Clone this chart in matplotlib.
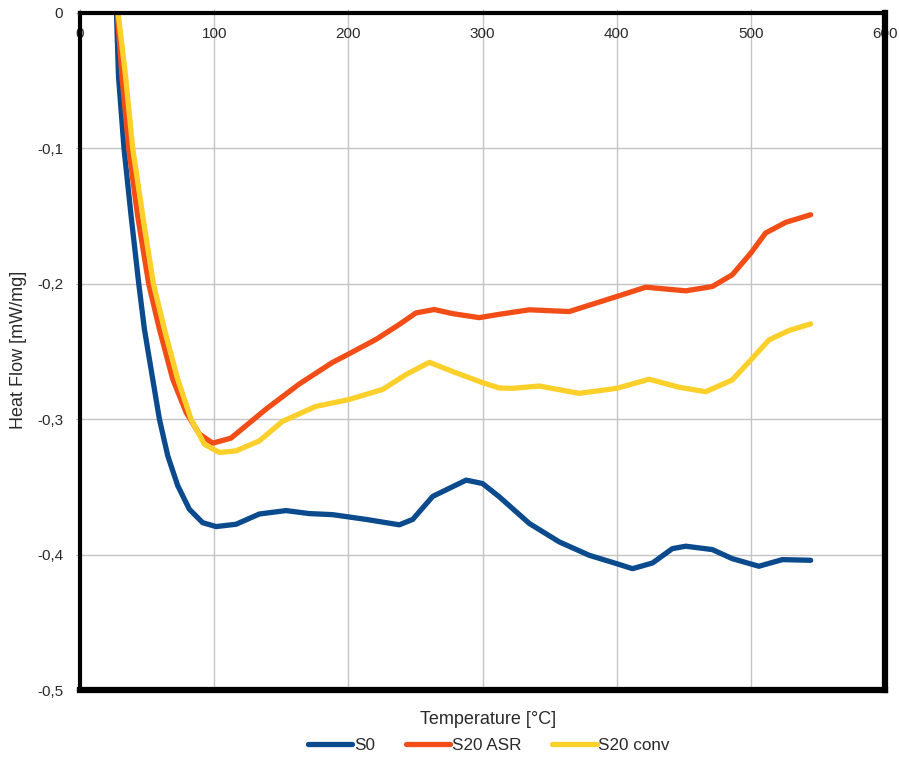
import matplotlib
matplotlib.use("Agg")
import matplotlib.pyplot as plt
from matplotlib.ticker import FuncFormatter

# ---- data ----
s0_x = [26.0, 27.2, 28.7, 32.8, 38.1, 43.8, 48.0, 54.2, 59.2, 65.4, 72.8, 81.5, 91.4, 101.4,
        116.3, 133.7, 153.5, 170.9, 188.3, 213.2, 238.0, 248.0, 262.9, 287.8, 300.0, 312.5,
        334.9, 357.2, 379.5, 400.0, 411.8, 426.7, 441.5, 451.5, 471.3, 486.2, 506.0, 523.5,
        544.6]
s0_y = [0.01, 0.0, -0.047, -0.1, -0.15, -0.2, -0.2335, -0.2704, -0.3, -0.327, -0.349, -0.3665,
        -0.3764, -0.3793, -0.3776, -0.370, -0.3675, -0.3697, -0.3705, -0.374, -0.378, -0.374,
        -0.357, -0.345, -0.3475, -0.3573, -0.377, -0.3906, -0.4005, -0.4067, -0.4104, -0.4062,
        -0.3956, -0.3938, -0.3963, -0.403, -0.4086, -0.4037, -0.4042]

asr_x = [26.5, 27.8, 31.3, 36.3, 43.0, 51.2, 59.2, 69.1, 79.1, 89.0, 98.9, 112.5, 138.6, 163.4,
         188.3, 200.0, 220.7, 238.0, 250.4, 264.0, 277.6, 297.5, 312.7, 334.9, 364.6, 400.0,
         421.7, 451.5, 471.3, 486.2, 500.0, 511.0, 526.0, 544.6]
asr_y = [0.01, 0.0, -0.047, -0.1, -0.15, -0.2, -0.2335, -0.2704, -0.295, -0.311, -0.3177,
         -0.314, -0.2926, -0.274, -0.258, -0.252, -0.241, -0.230, -0.2215, -0.219, -0.222,
         -0.225, -0.2225, -0.2192, -0.2205, -0.2094, -0.2025, -0.2052, -0.202, -0.1933,
         -0.1773, -0.1625, -0.1546, -0.149]

conv_x = [27.0, 28.4, 34.0, 39.3, 46.8, 54.7, 62.9, 72.8, 82.8, 92.7, 103.9, 116.3, 133.7,
          150.9, 175.9, 200.0, 225.6, 243.0, 260.4, 277.6, 300.0, 312.7, 322.4, 342.3, 372.0,
          400.0, 424.2, 446.5, 466.4, 486.2, 500.0, 513.6, 528.4, 544.6]
conv_y = [0.01, 0.0, -0.047, -0.1, -0.15, -0.2, -0.2335, -0.2704, -0.3, -0.3185, -0.3246,
          -0.3234, -0.316, -0.3016, -0.2905, -0.2856, -0.278, -0.267, -0.258, -0.2647, -0.273,
          -0.277, -0.2772, -0.2755, -0.2809, -0.2772, -0.2705, -0.2764, -0.2797, -0.271,
          -0.2562, -0.2414, -0.2345, -0.2296]

series_names = ["S0", "S20 ASR", "S20 conv"]
x_ticks = [0, 100, 200, 300, 400, 500, 600]
y_ticks = [0, -0.1, -0.2, -0.3, -0.4, -0.5]

colors = ["#0b4a8c", "#f24d17", "#fcd02a"]
text_col = "#2a2a2a"
plt.rcParams['font.family'] = ['Liberation Sans', 'DejaVu Sans']

fig = plt.figure(figsize=(8.99, 7.58), dpi=100)
W, H = 899, 758
ax = fig.add_axes([80 / W, 1 - 690 / H, 805 / W, 677 / H])

for xs, ys, c, n in zip([s0_x, asr_x, conv_x], [s0_y, asr_y, conv_y], colors, series_names):
    ax.plot(xs, ys, color=c, lw=3.8, label=n, solid_capstyle='round', solid_joinstyle='round')

ax.set_xlim(0, 600)
ax.set_ylim(-0.5, 0)
ax.set_xticks(x_ticks)
ax.set_yticks(y_ticks)
ax.grid(True, color="#c4c4c4", lw=1.0)
ax.set_axisbelow(True)

def yfmt(v, pos):
    if abs(v) < 1e-9:
        return "0"
    return f"{v:.1f}".replace(".", ",")

ax.yaxis.set_major_formatter(FuncFormatter(yfmt))
ax.tick_params(axis='x', top=True, bottom=False, labeltop=True, labelbottom=False,
               direction='out', length=3, color="#b0b0b0", pad=-23, labelsize=11,
               labelcolor=text_col)
ax.tick_params(axis='y', direction='out', length=3, color="#b0b0b0", pad=9, labelsize=11,
               labelcolor=text_col)

for side, lw in [("left", 3.0), ("top", 3.0), ("right", 4.5), ("bottom", 4.5)]:
    ax.spines[side].set_linewidth(lw)
    ax.spines[side].set_color("black")

fig.text(488 / W, 1 - 720 / H, "Temperature [°C]", ha='center', va='center',
         fontsize=13, color=text_col)
fig.text(19 / W, 1 - 350 / H, "Heat Flow [mW/mg]", ha='center', va='center',
         rotation=90, fontsize=13, color=text_col)

fig.legend(loc='center', bbox_to_anchor=(489 / W, 1 - 745 / H), ncol=3, frameon=False,
           fontsize=12.3, handlelength=2.6, handletextpad=0.1, columnspacing=1.8,
           labelcolor=text_col)

fig.savefig("out.png", dpi=100)
